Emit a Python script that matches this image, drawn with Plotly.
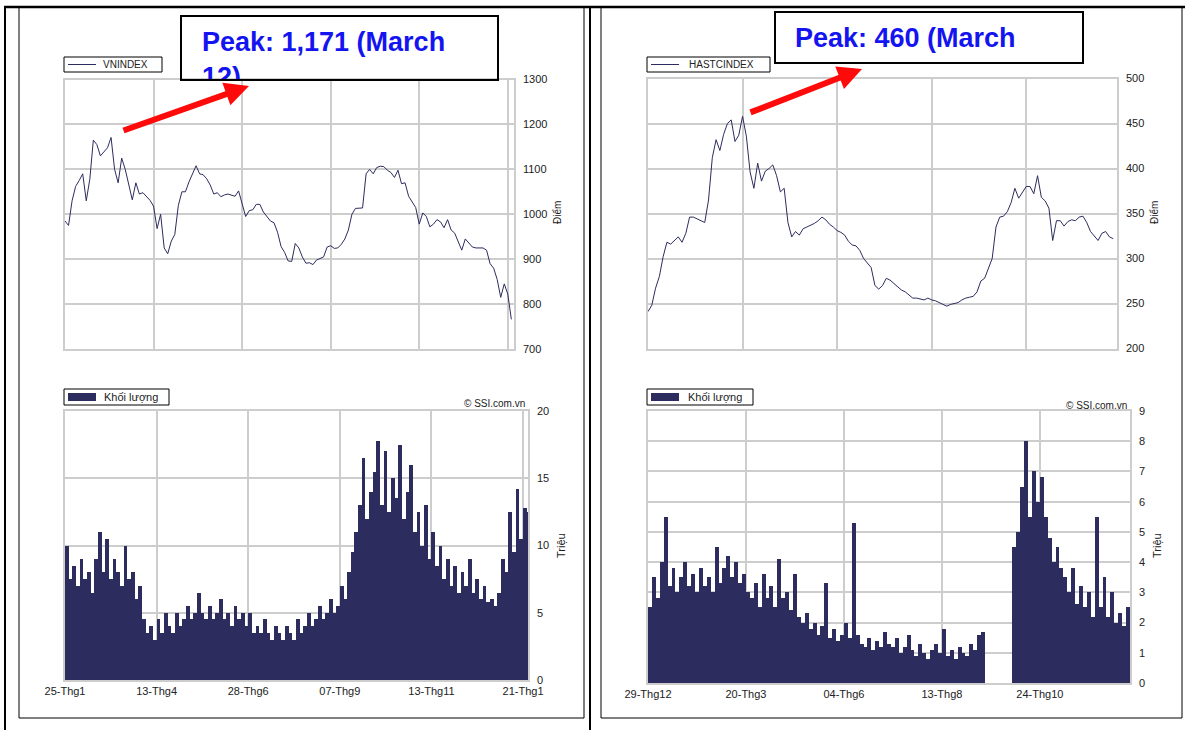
import plotly.graph_objects as go

W, H = 1185, 730
NAVY = "#2c2c5e"
GRID = "#cdcdcd"
TXT = "#222222"
FONT = "Arial"

# ---------------- data ----------------
# trading-day index (every second session)
vn_days = list(range(0, 254, 2))
vnindex = [985, 975, 1030, 1062, 1075, 1090, 1030, 1078, 1165, 1155,
           1130, 1140, 1148, 1171, 1100, 1070, 1125, 1100, 1068, 1032,
           1070, 1045, 1048, 1040, 1031, 1018, 968, 1000, 925, 912,
           940, 955, 1020, 1050, 1050, 1072, 1090, 1108, 1090, 1088,
           1079, 1065, 1045, 1048, 1039, 1043, 1045, 1042, 1040, 1052,
           1025, 995, 1008, 1010, 1022, 1022, 1005, 995, 985, 981,
           960, 928, 915, 896, 895, 935, 925, 905, 891, 892,
           888, 898, 901, 905, 927, 930, 924, 925, 933, 945,
           965, 1000, 1013, 1014, 1014, 1090, 1100, 1090, 1104, 1107,
           1106, 1098, 1093, 1082, 1098, 1068, 1070, 1040, 1027, 1015,
           978, 1003, 995, 972, 978, 988, 983, 970, 988, 965,
           958, 940, 920, 945, 935, 927, 925, 925, 925, 920,
           890, 880, 855, 815, 845, 822, 766]
vn_volume = [10, 7.5, 8.5, 7, 9, 7.5, 8, 6.5, 9, 11,
             8, 10.5, 7.5, 9, 8, 7, 10, 7.5, 8, 6,
             7, 4.5, 3.5, 4, 3, 4.5, 3.5, 5, 4, 3.5,
             5, 4, 4.5, 5.5, 4.5, 5, 6.5, 5, 4.5, 5.5,
             4.5, 5, 6, 4.5, 5, 4, 5.5, 4.5, 5, 4,
             5, 3.5, 4, 3.5, 4.5, 3.5, 3, 4, 3.5, 3,
             4, 3.5, 3, 4.5, 3.5, 4, 5, 4, 4.5, 5.5,
             4.5, 5, 6, 5, 5.5, 7, 6, 8, 9.5, 11,
             13, 16.5, 12, 14, 15.5, 17.8, 13, 17, 12.5, 15,
             13.5, 17.5, 12, 14, 16, 11, 12.5, 10, 13, 9,
             11, 8.5, 10, 7.5, 9, 7, 8.5, 6.5, 8, 7,
             9, 6.5, 7.5, 6, 7, 5.8, 6, 5.5, 6.5, 9,
             8, 12.5, 9.5, 14.2, 10.5, 12.8, 12.5]
vn_tickvals = [0, 50, 100, 150, 200, 250]
vn_ticktext = ["25-Thg1", "13-Thg4", "28-Thg6", "07-Thg9", "13-Thg11", "21-Thg1"]

hastc_days = list(range(0, 248, 2))
hastc = [241, 248, 267, 280, 302, 318, 316, 320, 324, 318,
         328, 346, 346, 344, 342, 340, 365, 412, 432, 420,
         438, 450, 454, 430, 437, 458, 436, 396, 378, 406,
         386, 397, 400, 404, 392, 374, 378, 340, 324, 330,
         326, 333, 335, 337, 339, 342, 346, 343, 338, 335,
         331, 329, 326, 319, 315, 314, 309, 300, 295, 290,
         270, 266, 270, 278, 276, 272, 268, 265, 263, 259,
         256, 256, 255, 254, 256, 254, 253, 251, 249, 247,
         249, 250, 251, 254, 256, 257, 258, 263, 275, 278,
         289, 300, 335, 346, 347, 352, 362, 378, 367, 374,
         380, 380, 372, 392, 368, 364, 356, 320, 342, 342,
         336, 341, 343, 342, 346, 347, 340, 330, 325, 320,
         328, 330, 324, 322]
hastc_volume = [2.5, 3.5, 2.8, 4, 5.5, 3.2, 3.8, 3, 3.5, 4,
                3.2, 3.6, 3, 3.8, 3.2, 3.5, 3, 4.5, 3.3, 3.8,
                4.2, 3.5, 4, 3.3, 3.6, 3, 2.8, 3.3, 2.5, 3.6,
                2.8, 3.2, 2.5, 4.1, 2.8, 3, 2.4, 3.6, 2.2, 2,
                2.3, 1.8, 2, 1.6, 1.9, 3.3, 1.5, 1.8, 1.4, 1.6,
                2, 1.5, 5.3, 1.6, 1.3, 1.2, 1.5, 1.1, 1.4, 1.2,
                1.7, 1.3, 1.2, 1.5, 1, 1.2, 1.6, 1.1, 0.9, 1.3,
                1, 0.8, 1.1, 1.3, 1, 1.8, 0.9, 1.1, 0.8, 1.2,
                1, 0.9, 1.3, 1.1, 1.6, 1.7, 0, 0, 0, 0,
                0, 0, 0, 4.5, 5, 6.5, 8, 5.5, 7, 6,
                6.8, 5.5, 4.8, 4, 4.5, 3.8, 3.5, 3, 3.8, 2.6,
                3.2, 2.5, 3, 2.2, 5.5, 2.5, 3.5, 2.2, 3, 2,
                2.3, 1.9, 2.5, 2]
hastc_tickvals = [0, 50, 100, 150, 200]
hastc_ticktext = ["29-Thg12", "20-Thg3", "04-Thg6", "13-Thg8", "24-Thg10"]

peak_left = "Peak: 1,171 (March<br>12)"
peak_right = "Peak: 460 (March<br>12)"


def fx(p):
    return p / W


def fy(p):
    return 1 - p / H


fig = go.Figure()
fig.add_trace(go.Scatter(x=vn_days, y=vnindex, mode="lines", line=dict(color=NAVY, width=1),
                         xaxis="x", yaxis="y", hoverinfo="skip"))
fig.add_trace(go.Bar(x=vn_days, y=vn_volume, width=2, offset=0, marker=dict(color=NAVY, line=dict(width=0)),
                     xaxis="x2", yaxis="y2", hoverinfo="skip"))
fig.add_trace(go.Scatter(x=hastc_days, y=hastc, mode="lines", line=dict(color=NAVY, width=1),
                         xaxis="x3", yaxis="y3", hoverinfo="skip"))
fig.add_trace(go.Bar(x=hastc_days, y=hastc_volume, width=2, offset=0, marker=dict(color=NAVY, line=dict(width=0)),
                     xaxis="x4", yaxis="y4", hoverinfo="skip"))

# clipped peak texts (clipped to the text boxes)
fig.add_trace(go.Scatter(x=[19], y=[14], mode="text", text=[peak_left], textposition="bottom right",
                         textfont=dict(family=FONT, size=27, color="#1414f0", weight="bold"),
                         cliponaxis=True, xaxis="x5", yaxis="y5", hoverinfo="skip"))
fig.add_trace(go.Scatter(x=[18], y=[14], mode="text", text=[peak_right], textposition="bottom right",
                         textfont=dict(family=FONT, size=27, color="#1414f0", weight="bold"),
                         cliponaxis=True, xaxis="x6", yaxis="y6", hoverinfo="skip"))


def xax(d0, d1, rng, anchor, tv, tt, labels):
    return dict(domain=[fx(d0), fx(d1)], range=rng, anchor=anchor, showgrid=True, gridcolor=GRID,
                gridwidth=1.5, tickmode="array", tickvals=tv, ticktext=tt, showticklabels=labels,
                ticks="", showline=True, mirror=True, linecolor=GRID, linewidth=1.5, zeroline=False,
                automargin=False, tickfont=dict(family=FONT, size=11, color=TXT), fixedrange=True)


def yax(t, b, rng, dtick, anchor):
    return dict(domain=[fy(b), fy(t)], range=rng, anchor=anchor, side="right", showgrid=True,
                gridcolor=GRID, gridwidth=1.5, dtick=dtick, tick0=0, ticks="", showline=True,
                mirror=True, linecolor=GRID, linewidth=1.5, zeroline=False, ticklabelstandoff=5,
                automargin=False, tickfont=dict(family=FONT, size=11, color=TXT), fixedrange=True)


def hidden(d0, d1, rng, anchor):
    return dict(domain=[d0, d1], range=rng, anchor=anchor, visible=False, showgrid=False,
                zeroline=False, fixedrange=True, automargin=False)


LB = (183, 497, 17, 79)
RB = (777, 1082, 13, 62)

layout = dict(
    template="none",
    width=W, height=H, margin=dict(l=0, r=0, t=0, b=0, pad=0, autoexpand=False),
    paper_bgcolor="white", plot_bgcolor="rgba(0,0,0,0)", showlegend=False,
    bargap=0,
    xaxis=xax(65, 514, [0, 253.5], "y", vn_tickvals, vn_ticktext, False),
    yaxis=yax(79.5, 349, [700, 1300], 100, "x"),
    xaxis2=xax(65, 528, [0, 252.7], "y2", vn_tickvals, vn_ticktext, True),
    yaxis2=yax(411, 680, [0, 20], 5, "x2"),
    xaxis3=xax(648, 1117, [0, 248], "y3", hastc_tickvals, hastc_ticktext, False),
    yaxis3=yax(78.5, 348.5, [200, 500], 50, "x3"),
    xaxis4=xax(648, 1130, [0, 246], "y4", hastc_tickvals, hastc_ticktext, True),
    yaxis4=yax(411, 683, [0, 9], 1, "x4"),
    xaxis5=hidden(fx(LB[0]), fx(LB[1]), [0, LB[1] - LB[0]], "y5"),
    yaxis5=hidden(fy(LB[3]), fy(LB[2]), [LB[3] - LB[2], 0], "x5"),
    xaxis6=hidden(fx(RB[0]), fx(RB[1]), [0, RB[1] - RB[0]], "y6"),
    yaxis6=hidden(fy(RB[3]), fy(RB[2]), [RB[3] - RB[2], 0], "x6"),
)
fig.update_layout(**layout)

shapes = []


def line(x0, y0, x1, y1, w=1, c="black"):
    shapes.append(dict(type="line", xref="paper", yref="paper", x0=fx(x0), y0=fy(y0), x1=fx(x1), y1=fy(y1),
                       line=dict(color=c, width=w), layer="above"))


def rect(x0, y0, x1, y1, w=1, c="black", fill=None):
    shapes.append(dict(type="rect", xref="paper", yref="paper", x0=fx(x0), y0=fy(y0), x1=fx(x1), y1=fy(y1),
                       line=dict(color=c, width=w), fillcolor=fill, layer="above"))


# page / table frame
line(5, 7, 5, 730, 2)
line(4, 7, 1185, 7, 2.5)
line(590, 7, 590, 730, 2)
rect(19, 7, 584, 718, 1)
rect(601, 7, 1182, 718, 1)

# peak boxes
rect(181, 16, 498, 80, 2)
rect(775, 12, 1083, 63, 2)

# legends
rect(64, 57, 162, 72, 1)
line(68, 64.5, 96, 64.5, 1, NAVY)
rect(647, 57, 770, 72, 1)
line(651, 64.5, 679, 64.5, 1, NAVY)
rect(64, 389, 169, 405, 1)
rect(68, 393, 96, 401, 0, NAVY, NAVY)
rect(647, 389, 753, 405, 1)
rect(651, 393, 679, 401, 0, NAVY, NAVY)

fig.update_layout(shapes=shapes)

ann = []


def text(x, y, s, size=11, xanchor="left", angle=0):
    ann.append(dict(xref="paper", yref="paper", x=fx(x), y=fy(y), text=s, showarrow=False,
                    xanchor=xanchor, yanchor="middle", textangle=angle,
                    font=dict(family=FONT, size=size, color=TXT)))


text(101, 64.5, "VNINDEX", 10)
text(687, 64.5, "HASTCINDEX", 10)
text(102, 397, "Khối lượng", 11)
text(686, 397, "Khối lượng", 11)
text(527, 403, "© SSI.com.vn", 10, "right")
text(1129, 405, "© SSI.com.vn", 10, "right")
text(558, 213, "Điểm", 10, "center", -90)
text(1155, 213, "Điểm", 10, "center", -90)
text(561, 546, "Triệu", 11, "center", -90)
text(1157, 546, "Triệu", 11, "center", -90)

# red arrows
for tip, tail in (((249, 86), (122, 131)), ((862, 69), (749, 113))):
    ann.append(dict(xref="paper", yref="paper", x=fx(tip[0]), y=fy(tip[1]), text="",
                    showarrow=True, axref="pixel", ayref="pixel",
                    ax=tail[0] - tip[0], ay=tail[1] - tip[1],
                    arrowhead=2, arrowsize=0.8, arrowwidth=6, arrowcolor="#ff0a0a", standoff=0))

fig.update_layout(annotations=ann)

fig.write_html("out.html", config={"displayModeBar": False},
               post_script="document.body.style.margin='0';document.body.style.overflow='hidden';")
